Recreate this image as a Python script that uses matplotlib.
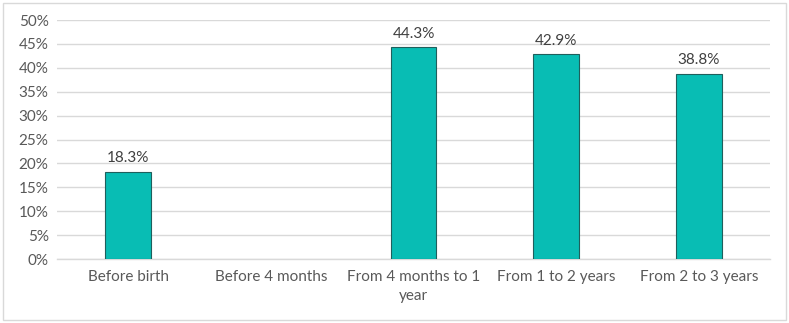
import matplotlib
matplotlib.use("Agg")
import matplotlib.pyplot as plt
from matplotlib.patches import Rectangle
from matplotlib.ticker import FuncFormatter

categories = ["Before birth", "Before 4 months", "From 4 months to 1\nyear",
              "From 1 to 2 years", "From 2 to 3 years"]
values = [18.3, 0.0, 44.3, 42.9, 38.8]
labels = ["18.3%", "", "44.3%", "42.9%", "38.8%"]
yticks = [0, 5, 10, 15, 20, 25, 30, 35, 40, 45, 50]

plt.rcParams['font.family'] = ['Lato', 'DejaVu Sans']
txt = '#595959'

fig = plt.figure(figsize=(7.89, 3.23), dpi=100)
ax = fig.add_axes([0.0722, 0.198, 0.904, 0.740])

x = list(range(len(categories)))
bars = ax.bar(x, values, width=0.32, color='#08BDB4', edgecolor='#1f5f5c', linewidth=0.8, zorder=3)
for b, v in zip(bars, values):
    if v == 0:
        b.set_linewidth(0)
for xi, v, lab in zip(x, values, labels):
    if lab:
        ax.text(xi, v + 1.3, lab, ha='center', va='bottom', fontsize=11, color='#404040')

ax.set_xlim(-0.5, 4.5)
ax.set_ylim(0, 50)
ax.set_yticks(yticks)
ax.yaxis.set_major_formatter(FuncFormatter(lambda v, p: f"{int(v)}%"))
ax.set_xticks(x)
ax.set_xticklabels(categories, fontsize=11, color=txt, linespacing=1.45)
ax.tick_params(axis='y', labelsize=11, labelcolor=txt, length=0, pad=6)
ax.tick_params(axis='x', length=0, pad=8)
ax.grid(axis='y', color='#D9D9D9', linewidth=1, zorder=0)
for s in ['top', 'right', 'left']:
    ax.spines[s].set_visible(False)
ax.spines['bottom'].set_color('#D9D9D9')
ax.spines['bottom'].set_linewidth(1)

fig.patches.append(Rectangle((0.004, 0.008), 0.992, 0.984, transform=fig.transFigure,
                             fill=False, edgecolor='#D9D9D9', linewidth=1))

fig.savefig("out.png", dpi=100)
